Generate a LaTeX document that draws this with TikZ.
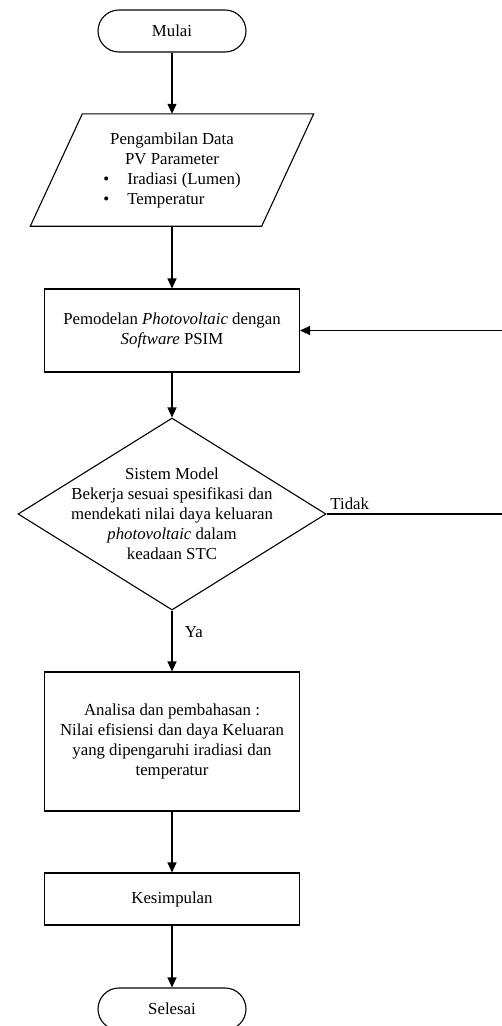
\documentclass[tikz,border=0pt]{standalone}
\usepackage{fontspec}
\setmainfont{Liberation Serif}
\usetikzlibrary{arrows.meta,shapes.geometric,positioning,calc}

\begin{document}
\begin{tikzpicture}[x=1pt, y=-1pt,
  every node/.style={font=\fontsize{16.8}{20}\selectfont},
  terminal/.style={draw, line width=1.1pt, rounded corners=21pt, minimum width=148pt, minimum height=42pt},
  procbox/.style={draw, line width=1.1pt, minimum width=255pt, align=center},
  flow/.style={line width=1.1pt, -{Triangle[length=10pt,width=9pt]}}]
  \useasboundingbox (0,0) rectangle (502,1026);
  \node[terminal] (start) at (172,31) {Mulai};
  % input data (parallelogram drawn round the text box)
  \node[minimum width=231pt, minimum height=112pt, inner sep=0pt] (data) at (172,170)
    {\begin{tabular}{@{}l@{\hspace{18pt}}l@{}}
      \multicolumn{2}{c}{Pengambilan Data}\\
      \multicolumn{2}{c}{PV Parameter}\\
      \textbullet & Iradiasi (Lumen)\\
      \textbullet & Temperatur
    \end{tabular}};
  \draw[line width=1.1pt] ($(data.north west)+(26,0)$) -- ($(data.north east)+(26,0)$)
    -- ($(data.south east)-(26,0)$) -- ($(data.south west)-(26,0)$) -- cycle;
  \node[procbox, minimum height=83pt] (model) at (172,330.5)
    {Pemodelan \textit{Photovoltaic} dengan\\\textit{Software} PSIM};
  \node[draw, diamond, line width=1.1pt, minimum width=308pt, minimum height=192pt, inner sep=0pt] (dec) at (172,514) {};
  \node[align=center] (dectxt) at (dec.center)
    {Sistem Model\\Bekerja sesuai spesifikasi dan\\mendekati nilai daya keluaran\\\textit{photovoltaic} dalam\\keadaan STC};
  \node[procbox, minimum height=139pt] (ana) at (172,741.5)
    {Analisa dan pembahasan :\\Nilai efisiensi dan daya Keluaran\\yang dipengaruhi iradiasi dan\\temperatur};
  \node[procbox, minimum height=52pt] (concl) at (172,899) {Kesimpulan};
  \node[terminal] (stop) at (172,1009) {Selesai};
  \foreach \a/\b in {start/data, data/model, model/dec, ana/concl, concl/stop}
    \draw[flow] (\a) -- (\b);
  \draw[flow] (dec) -- node[pos=0.36, right=9pt] {Ya} (ana);
  % back to the model when the check fails
  \coordinate (back) at (506,514);
  \draw[flow] (dec.east) -- node[pos=0, above right] {Tidak} (back) |- (model.east);
\end{tikzpicture}
\end{document}
